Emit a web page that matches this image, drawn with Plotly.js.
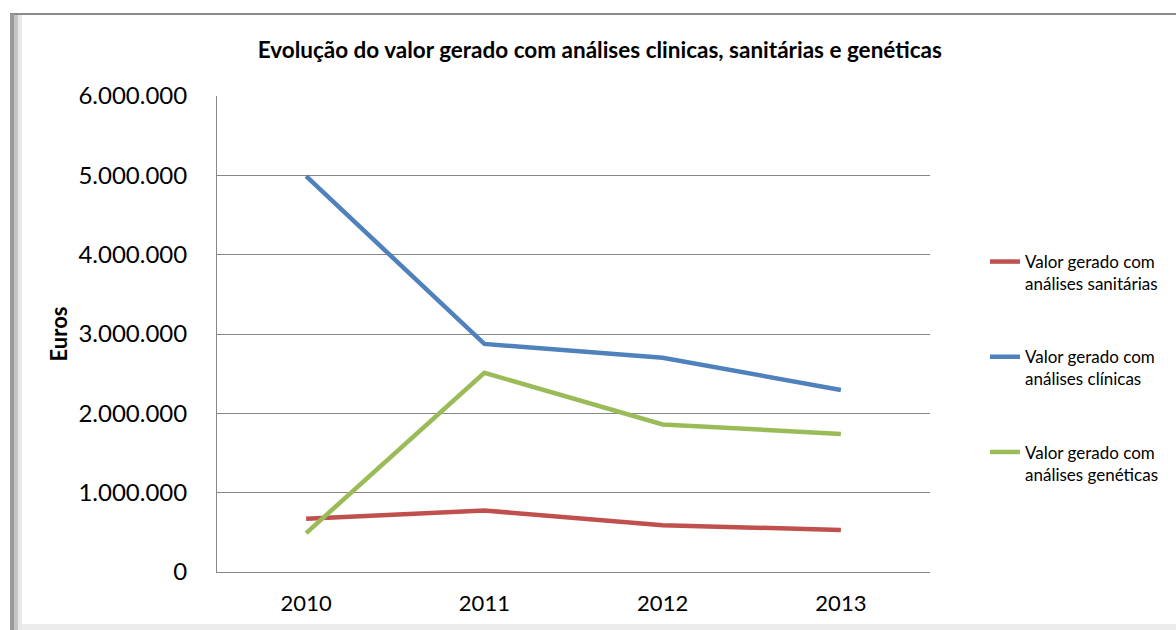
<!DOCTYPE html>
<html>
<head>
<meta charset="utf-8">
<script src="https://cdn.plot.ly/plotly-3.0.1.min.js"></script>
<style>html,body{margin:0;padding:0;background:#fff;}#chart{width:1176px;height:630px;}</style>
</head>
<body>
<div id="chart"></div>
<script>
const years = ['2010', '2011', '2012', '2013'];
const sanitarias = [670000, 775000, 590000, 530000];
const clinicas = [4990000, 2875000, 2700000, 2295000];
const geneticas = [490000, 2510000, 1860000, 1740000];
const seriesNames = [
  'Valor gerado com<br>análises sanitárias',
  'Valor gerado com<br>análises clínicas',
  'Valor gerado com<br>análises genéticas'
];
const yTicks = [0, 1000000, 2000000, 3000000, 4000000, 5000000, 6000000];

const FONT = 'Lato, "Open Sans", sans-serif';
const W = 1176, H = 630, L = 217, R = 930, T = 96, B = 572;
const px = x => (x - L) / (R - L);
const py = y => (B - y) / (B - T);

function tr(name, vals, color, g) {
  return {x: years, y: vals, name: name, type: 'scatter', mode: 'lines',
    legendgroup: g, line: {color: color, width: 4.5}};
}
const data = [
  tr(seriesNames[0], sanitarias, '#C0504D', 'a'),
  tr(seriesNames[1], clinicas, '#4F81BD', 'b'),
  tr(seriesNames[2], geneticas, '#9BBB59', 'c')
];

const shapes = [
  {type: 'line', xref: 'paper', yref: 'paper', x0: px(10), x1: px(1176), y0: py(14), y1: py(14), line: {color: '#8a8a8a', width: 2}},
  {type: 'rect', xref: 'paper', yref: 'paper', x0: px(10), x1: px(14), y0: py(630), y1: py(14), line: {width: 0}, fillcolor: '#9a9a9a'},
  {type: 'rect', xref: 'paper', yref: 'paper', x0: px(14), x1: px(18), y0: py(630), y1: py(15), line: {width: 0}, fillcolor: '#c4c4c4'},
  {type: 'rect', xref: 'paper', yref: 'paper', x0: px(18), x1: px(22), y0: py(630), y1: py(15), line: {width: 0}, fillcolor: '#e8e8e8'},
  {type: 'rect', xref: 'paper', yref: 'paper', x0: px(22), x1: px(1176), y0: py(630), y1: py(624), line: {width: 0}, fillcolor: '#ececec'}
];

const layout = {
  width: W, height: H,
  margin: {l: L, r: W - R, t: T, b: H - B, pad: 0},
  paper_bgcolor: '#fff', plot_bgcolor: '#fff',
  separators: ',.',
  font: {family: FONT, color: '#000'},
  title: {text: '<b>Evolução do valor gerado com análises clinicas, sanitárias e genéticas</b>',
    font: {family: FONT, size: 22.5, color: '#000'}, x: 0.51, xanchor: 'center', y: 1 - 50 / H, yanchor: 'middle'},
  xaxis: {type: 'category', range: [-0.5, 3.5], showgrid: false, zeroline: false,
    showline: true, linecolor: '#868686', linewidth: 1, ticks: '', tickfont: {family: FONT, size: 22},
    ticklabelstandoff: 12, fixedrange: true},
  yaxis: {range: [0, 6000000], tickvals: yTicks, tickformat: ',d', showgrid: true, gridcolor: '#868686', gridwidth: 1,
    zeroline: false, showline: true, linecolor: '#868686', linewidth: 1, ticks: '',
    tickfont: {family: FONT, size: 24}, ticklabelstandoff: 24,
    title: {text: '<b>Euros</b>', font: {family: FONT, size: 22}, standoff: 4}, fixedrange: true},
  showlegend: true,
  legend: {x: px(985), xanchor: 'left', y: py(244), yanchor: 'top', traceorder: 'grouped', tracegroupgap: 48,
    valign: 'top', font: {family: FONT, size: 17, color: '#000'}, bgcolor: 'rgba(0,0,0,0)'},
  shapes: shapes
};

Plotly.newPlot('chart', data, layout, {displayModeBar: false, staticPlot: true});
</script>
</body>
</html>
